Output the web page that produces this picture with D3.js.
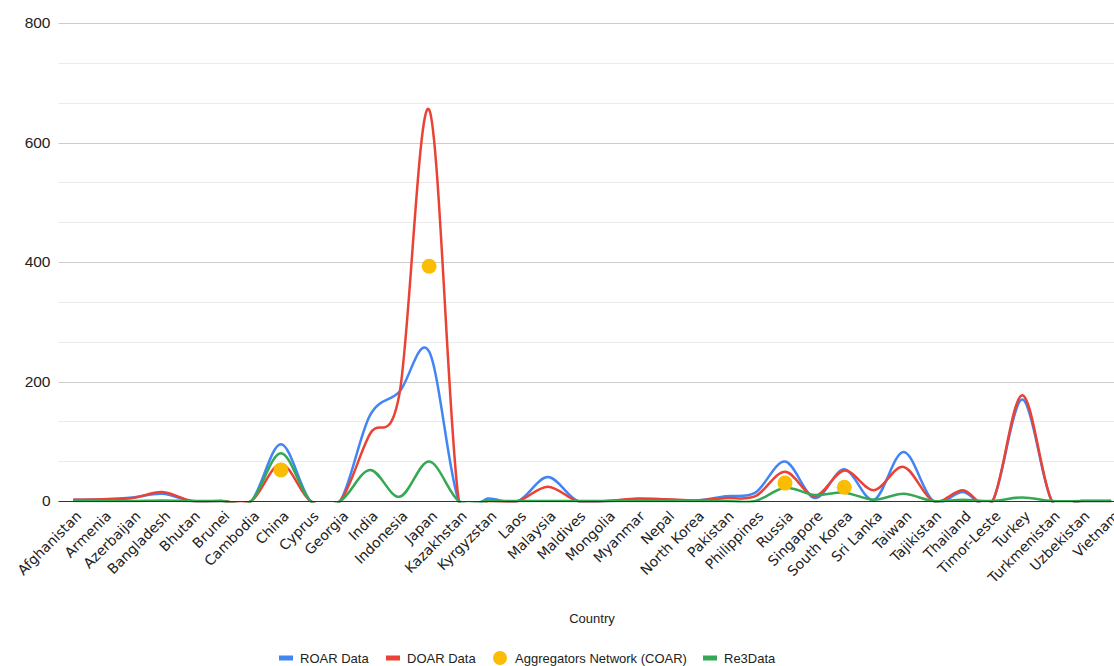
<!DOCTYPE html>
<html>
<head>
<meta charset="utf-8">
<script src="https://cdn.jsdelivr.net/npm/d3@7"></script>
<style>
  html, body { margin: 0; padding: 0; background: #fff; overflow: hidden; }
  svg { display: block; font-family: "Liberation Sans", Arial, Helvetica, sans-serif; }
</style>
</head>
<body>
<svg id="chart" width="1114" height="666"></svg>
<script>
// Repository counts per Asian country, by source
const countries = ["Afghanistan", "Armenia", "Azerbaijan", "Bangladesh", "Bhutan", "Brunei", "Cambodia",
  "China", "Cyprus", "Georgia", "India", "Indonesia", "Japan", "Kazakhstan", "Kyrgyzstan", "Laos",
  "Malaysia", "Maldives", "Mongolia", "Myanmar", "Nepal", "North Korea", "Pakistan", "Philippines",
  "Russia", "Singapore", "South Korea", "Sri Lanka", "Taiwan", "Tajikistan", "Thailand", "Timor-Leste",
  "Turkey", "Turkmenistan", "Uzbekistan", "Vietnam"];

const roarData = [2, 3, 6, 12, 0, 0, 0, 95, 0, 0, 143, 183, 250, 0, 4, 0,
  40, 0, 0, 2, 2, 1, 8, 14, 66, 5, 53, 2, 82, 0, 15, 0, 170, 0, 0, 0];

const doarData = [2, 3, 5, 15, 0, 0, 0, 62, 0, 0, 112, 180, 655, 0, 0, 0,
  24, 0, 0, 4, 3, 1, 5, 8, 49, 8, 51, 18, 57, 0, 18, 0, 177, 0, 0, 0];

const coarData = [null, null, null, null, null, null, null, 52, null, null, null, null, 393, null, null, null,
  null, null, null, null, null, null, null, null, 30, null, 23, null, null, null, null, null, null, null, null, null];

const re3Data = [0, 0, 0, 1, 0, 0, 0, 80, 0, 0, 52, 7, 66, 0, 0, 0,
  0, 0, 0, 0, 0, 0, 0, 0, 22, 10, 14, 2, 12, 0, 2, 0, 6, 0, 0, 0];

const yMajorTicks = [0, 200, 400, 600, 800];

const seriesLines = [
  { name: "ROAR Data", values: roarData, color: "#4285F4" },
  { name: "DOAR Data", values: doarData, color: "#EA4335" },
  { name: "Re3Data", values: re3Data, color: "#34A853" }
];
const dotColor = "#FBBC04";

const svg = d3.select("#chart");
const plot = { left: 58.5, right: 1126, top: 23, bottom: 501 };

const x = d3.scaleBand().domain(countries).range([plot.left, plot.right]).padding(0);
const cx = c => x(c) + x.bandwidth() / 2;
const y = d3.scaleLinear().domain([0, 800]).range([plot.bottom, plot.top]);

// Gridlines: major every 200, minor in thirds between them
const minorTicks = d3.range(0, 800, 200).flatMap(v => [v + 200 / 3, v + 400 / 3]);
svg.append("g").selectAll("line").data(minorTicks).join("line")
  .attr("x1", plot.left).attr("x2", 1114)
  .attr("y1", d => Math.round(y(d)) + 0.5).attr("y2", d => Math.round(y(d)) + 0.5)
  .attr("stroke", "#ebebeb").attr("stroke-width", 1);
svg.append("g").selectAll("line").data(yMajorTicks.filter(d => d > 0)).join("line")
  .attr("x1", plot.left).attr("x2", 1114)
  .attr("y1", d => Math.round(y(d)) + 0.5).attr("y2", d => Math.round(y(d)) + 0.5)
  .attr("stroke", "#cccccc").attr("stroke-width", 1);

// Y axis labels
const yAxis = d3.axisLeft(y).tickValues(yMajorTicks).tickSize(0).tickPadding(8);
const yg = svg.append("g").attr("transform", `translate(${plot.left},0)`).call(yAxis);
yg.select(".domain").remove();
yg.selectAll("text").attr("font-size", 15.5).attr("fill", "#222")
  .attr("font-family", "'Liberation Sans', Arial, sans-serif");

// Series lines, clipped to the plot area
svg.append("defs").append("clipPath").attr("id", "plotClip")
  .append("rect").attr("x", plot.left).attr("y", 0)
  .attr("width", plot.right - plot.left).attr("height", plot.bottom + 1.5);

const line = d3.line()
  .x((d, i) => cx(countries[i]))
  .y(d => y(d))
  .curve(d3.curveCatmullRom.alpha(0));

const lines = svg.append("g").attr("clip-path", "url(#plotClip)");

// Baseline (x axis)
svg.append("line")
  .attr("x1", plot.left).attr("x2", 1114)
  .attr("y1", plot.bottom + 0.5).attr("y2", plot.bottom + 0.5)
  .attr("stroke", "#333").attr("stroke-width", 1);

lines.selectAll("path").data(seriesLines).join("path")
  .attr("d", d => line(d.values))
  .attr("fill", "none")
  .attr("stroke", d => d.color)
  .attr("stroke-width", 2.5)
  .attr("stroke-linejoin", "round");

// Aggregator network points
svg.append("g").selectAll("circle")
  .data(coarData.map((v, i) => ({ v, c: countries[i] })).filter(d => d.v !== null))
  .join("circle")
  .attr("cx", d => cx(d.c))
  .attr("cy", d => y(d.v))
  .attr("r", 7.5)
  .attr("fill", dotColor);

// X axis labels, rotated
const xAxis = d3.axisBottom(x).tickSize(0).tickPadding(0);
const xg = svg.append("g").attr("transform", `translate(0,${plot.bottom})`).call(xAxis);
xg.select(".domain").remove();
xg.selectAll("text")
  .attr("font-size", 14).attr("fill", "#222")
  .attr("font-family", "'DejaVu Sans', Verdana, sans-serif")
  .attr("text-anchor", "end")
  .attr("y", 0).attr("dy", 0)
  .attr("transform", "translate(9,16) rotate(-45)");

// Axis title
svg.append("text")
  .attr("x", 592).attr("y", 623)
  .attr("text-anchor", "middle")
  .attr("font-size", 13).attr("fill", "#222")
  .text("Country");

// Legend
const legendItems = [
  { name: "ROAR Data", color: "#4285F4", type: "line", x: 279 },
  { name: "DOAR Data", color: "#EA4335", type: "line", x: 386 },
  { name: "Aggregators Network (COAR)", color: dotColor, type: "dot", x: 493 },
  { name: "Re3Data", color: "#34A853", type: "line", x: 703 }
];
const lg = svg.append("g").attr("transform", "translate(0,658)");
const item = lg.selectAll("g").data(legendItems).join("g")
  .attr("transform", d => `translate(${d.x},0)`);
item.filter(d => d.type === "line").append("rect")
  .attr("x", 0).attr("y", -2.5).attr("width", 14).attr("height", 5)
  .attr("fill", d => d.color);
item.filter(d => d.type === "dot").append("circle")
  .attr("cx", 7).attr("cy", 0).attr("r", 7)
  .attr("fill", d => d.color);
item.append("text")
  .attr("x", d => d.type === "dot" ? 22 : 21)
  .attr("y", 5)
  .attr("font-size", 13).attr("fill", "#222")
  .text(d => d.name);
</script>
</body>
</html>
